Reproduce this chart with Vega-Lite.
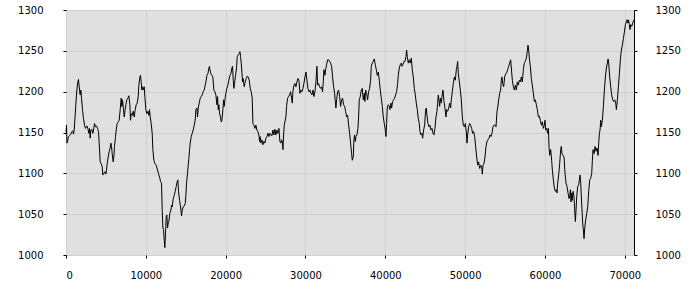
{
  "$schema": "https://vega.github.io/schema/vega-lite/v6.json",
  "width": 568,
  "height": 245,
  "autosize": {"type": "none"},
  "padding": {"left": 66, "top": 10, "right": 66, "bottom": 45},
  "background": "white",
  "config": {
    "view": {"fill": "#e0e0e0", "stroke": "black", "strokeWidth": 1},
    "axis": {"labelFont": "DejaVu Sans", "labelFontSize": 10, "labelColor": "black", "gridColor": "#d0d0d0", "gridWidth": 1, "tickColor": "black", "tickSize": 3, "domain": false, "title": null}
  },
  "data": {"values": [
{"x":0,"y":1150},{"x":60,"y":1159},{"x":120,"y":1137},{"x":188,"y":1139},{"x":313,"y":1145},{"x":439,"y":1146},{"x":606,"y":1148},{"x":731,"y":1151},{"x":857,"y":1152},{"x":940,"y":1148},{"x":1024,"y":1153},{"x":1149,"y":1171},{"x":1232,"y":1184},{"x":1358,"y":1202},{"x":1483,"y":1212},{"x":1567,"y":1215},{"x":1692,"y":1202},{"x":1776,"y":1196},{"x":1859,"y":1202},{"x":1943,"y":1192},{"x":2068,"y":1178},{"x":2193,"y":1167},{"x":2319,"y":1159},{"x":2444,"y":1155},{"x":2611,"y":1158},{"x":2736,"y":1155},{"x":2862,"y":1149},{"x":2945,"y":1155},{"x":3029,"y":1143},{"x":3112,"y":1153},{"x":3237,"y":1154},{"x":3363,"y":1149},{"x":3446,"y":1153},{"x":3572,"y":1161},{"x":3697,"y":1157},{"x":3822,"y":1158},{"x":3948,"y":1155},{"x":4073,"y":1151},{"x":4157,"y":1137},{"x":4282,"y":1114},{"x":4407,"y":1112},{"x":4532,"y":1108},{"x":4616,"y":1098},{"x":4741,"y":1100},{"x":4867,"y":1102},{"x":4992,"y":1099},{"x":5075,"y":1104},{"x":5159,"y":1112},{"x":5284,"y":1120},{"x":5410,"y":1127},{"x":5535,"y":1131},{"x":5618,"y":1137},{"x":5702,"y":1133},{"x":5785,"y":1124},{"x":5911,"y":1114},{"x":5994,"y":1120},{"x":6078,"y":1133},{"x":6203,"y":1145},{"x":6287,"y":1153},{"x":6412,"y":1161},{"x":6537,"y":1163},{"x":6663,"y":1165},{"x":6788,"y":1178},{"x":6913,"y":1192},{"x":6997,"y":1182},{"x":7080,"y":1190},{"x":7206,"y":1178},{"x":7289,"y":1169},{"x":7414,"y":1178},{"x":7498,"y":1184},{"x":7623,"y":1190},{"x":7749,"y":1192},{"x":7874,"y":1195},{"x":8000,"y":1184},{"x":8083,"y":1165},{"x":8166,"y":1173},{"x":8292,"y":1171},{"x":8417,"y":1176},{"x":8542,"y":1169},{"x":8668,"y":1178},{"x":8793,"y":1184},{"x":8918,"y":1186},
{"x":9043,"y":1194},{"x":9127,"y":1208},{"x":9252,"y":1218},{"x":9336,"y":1220},{"x":9419,"y":1212},{"x":9503,"y":1202},{"x":9586,"y":1206},{"x":9711,"y":1202},{"x":9795,"y":1206},{"x":9879,"y":1194},{"x":10004,"y":1178},{"x":10129,"y":1173},{"x":10255,"y":1176},{"x":10380,"y":1171},{"x":10463,"y":1178},{"x":10547,"y":1169},{"x":10672,"y":1161},{"x":10798,"y":1149},{"x":10881,"y":1129},{"x":11006,"y":1116},{"x":11132,"y":1112},{"x":11299,"y":1110},{"x":11466,"y":1104},{"x":11633,"y":1098},{"x":11758,"y":1094},{"x":11842,"y":1090},{"x":11967,"y":1088},{"x":12051,"y":1055},{"x":12134,"y":1033},{"x":12218,"y":1031},{"x":12301,"y":1018},{"x":12385,"y":1009},{"x":12468,"y":1027},{"x":12552,"y":1047},{"x":12635,"y":1049},{"x":12719,"y":1033},{"x":12802,"y":1039},{"x":12886,"y":1041},{"x":13011,"y":1051},{"x":13137,"y":1055},{"x":13220,"y":1061},{"x":13304,"y":1059},{"x":13429,"y":1069},{"x":13554,"y":1073},{"x":13680,"y":1078},{"x":13805,"y":1084},{"x":13930,"y":1090},{"x":14014,"y":1092},{"x":14097,"y":1078},{"x":14223,"y":1067},{"x":14348,"y":1059},{"x":14473,"y":1048},{"x":14557,"y":1055},{"x":14682,"y":1059},{"x":14808,"y":1060},{"x":14933,"y":1063},{"x":15016,"y":1073},{"x":15100,"y":1088},{"x":15225,"y":1100},{"x":15309,"y":1110},{"x":15392,"y":1118},{"x":15476,"y":1129},{"x":15559,"y":1137},{"x":15685,"y":1145},{"x":15810,"y":1149},{"x":15935,"y":1153},{"x":16061,"y":1159},{"x":16186,"y":1165},{"x":16270,"y":1178},{"x":16395,"y":1180},{"x":16478,"y":1169},{"x":16562,"y":1180},{"x":16687,"y":1186},{"x":16813,"y":1192},{"x":16938,"y":1194},{"x":17063,"y":1196},{"x":17189,"y":1200},{"x":17314,"y":1202},{"x":17439,"y":1208},{"x":17565,"y":1214},{"x":17648,"y":1220},{"x":17774,"y":1222},{"x":17899,"y":1229},{"x":17982,"y":1231},
{"x":18023,"y":1227},{"x":18148,"y":1222},{"x":18274,"y":1220},{"x":18399,"y":1218},{"x":18525,"y":1202},{"x":18650,"y":1200},{"x":18775,"y":1196},{"x":18901,"y":1184},{"x":18984,"y":1194},{"x":19068,"y":1178},{"x":19151,"y":1184},{"x":19235,"y":1173},{"x":19360,"y":1169},{"x":19444,"y":1163},{"x":19527,"y":1165},{"x":19652,"y":1178},{"x":19736,"y":1190},{"x":19820,"y":1182},{"x":19903,"y":1190},{"x":20028,"y":1198},{"x":20154,"y":1204},{"x":20279,"y":1208},{"x":20404,"y":1214},{"x":20530,"y":1220},{"x":20655,"y":1222},{"x":20780,"y":1229},{"x":20864,"y":1231},{"x":20947,"y":1214},{"x":21031,"y":1204},{"x":21114,"y":1210},{"x":21240,"y":1220},{"x":21365,"y":1229},{"x":21449,"y":1243},{"x":21574,"y":1245},{"x":21699,"y":1247},{"x":21783,"y":1249},{"x":21866,"y":1243},{"x":21950,"y":1235},{"x":22033,"y":1224},{"x":22117,"y":1212},{"x":22200,"y":1216},{"x":22326,"y":1206},{"x":22451,"y":1212},{"x":22576,"y":1216},{"x":22702,"y":1219},{"x":22827,"y":1218},{"x":22952,"y":1214},{"x":23078,"y":1204},{"x":23203,"y":1200},{"x":23328,"y":1192},{"x":23412,"y":1161},{"x":23537,"y":1159},{"x":23662,"y":1155},{"x":23788,"y":1159},{"x":23913,"y":1153},{"x":24038,"y":1151},{"x":24164,"y":1147},{"x":24247,"y":1139},{"x":24331,"y":1145},{"x":24414,"y":1137},{"x":24540,"y":1141},{"x":24665,"y":1135},{"x":24790,"y":1139},{"x":24916,"y":1137},{"x":25041,"y":1143},{"x":25166,"y":1145},{"x":25292,"y":1149},{"x":25417,"y":1145},{"x":25542,"y":1149},{"x":25668,"y":1147},{"x":25793,"y":1146},{"x":25918,"y":1153},{"x":26043,"y":1147},{"x":26169,"y":1154},{"x":26294,"y":1147},{"x":26419,"y":1153},{"x":26545,"y":1149},{"x":26670,"y":1155},{"x":26795,"y":1139},{"x":26921,"y":1137},
{"x":27005,"y":1141},{"x":27130,"y":1137},{"x":27172,"y":1129},{"x":27255,"y":1147},{"x":27339,"y":1159},{"x":27464,"y":1165},{"x":27548,"y":1169},{"x":27631,"y":1182},{"x":27756,"y":1192},{"x":27882,"y":1194},{"x":28007,"y":1196},{"x":28132,"y":1200},{"x":28258,"y":1192},{"x":28341,"y":1186},{"x":28425,"y":1200},{"x":28550,"y":1208},{"x":28675,"y":1210},{"x":28801,"y":1206},{"x":28926,"y":1212},{"x":29051,"y":1216},{"x":29177,"y":1214},{"x":29302,"y":1198},{"x":29427,"y":1202},{"x":29553,"y":1200},{"x":29678,"y":1204},{"x":29803,"y":1210},{"x":29929,"y":1218},{"x":30054,"y":1224},{"x":30179,"y":1214},{"x":30305,"y":1204},{"x":30430,"y":1200},{"x":30555,"y":1202},{"x":30680,"y":1198},{"x":30806,"y":1196},{"x":30931,"y":1202},{"x":31056,"y":1194},{"x":31182,"y":1200},{"x":31307,"y":1212},{"x":31432,"y":1231},{"x":31516,"y":1208},{"x":31641,"y":1210},{"x":31766,"y":1206},{"x":31892,"y":1204},{"x":32017,"y":1206},{"x":32142,"y":1200},{"x":32226,"y":1212},{"x":32309,"y":1227},{"x":32435,"y":1220},{"x":32518,"y":1227},{"x":32644,"y":1233},{"x":32769,"y":1239},{"x":32894,"y":1239},{"x":33020,"y":1237},{"x":33145,"y":1235},{"x":33270,"y":1231},{"x":33396,"y":1218},{"x":33521,"y":1206},{"x":33646,"y":1198},{"x":33730,"y":1188},{"x":33813,"y":1180},{"x":33897,"y":1190},{"x":34022,"y":1200},{"x":34147,"y":1202},{"x":34273,"y":1194},{"x":34398,"y":1182},{"x":34523,"y":1190},{"x":34649,"y":1192},{"x":34774,"y":1184},{"x":34899,"y":1182},{"x":35025,"y":1176},{"x":35150,"y":1169},{"x":35275,"y":1171},{"x":35401,"y":1159},{"x":35526,"y":1149},{"x":35651,"y":1137},{"x":35777,"y":1124},{"x":35860,"y":1116},{"x":35985,"y":1120},
{"x":36068,"y":1141},{"x":36152,"y":1147},{"x":36235,"y":1139},{"x":36319,"y":1145},{"x":36444,"y":1147},{"x":36570,"y":1155},{"x":36653,"y":1169},{"x":36737,"y":1190},{"x":36862,"y":1194},{"x":36987,"y":1202},{"x":37113,"y":1204},{"x":37238,"y":1190},{"x":37363,"y":1198},{"x":37447,"y":1188},{"x":37530,"y":1202},{"x":37656,"y":1198},{"x":37781,"y":1190},{"x":37906,"y":1200},{"x":38032,"y":1204},{"x":38157,"y":1214},{"x":38240,"y":1231},{"x":38366,"y":1235},{"x":38491,"y":1237},{"x":38616,"y":1240},{"x":38742,"y":1233},{"x":38867,"y":1227},{"x":38992,"y":1220},{"x":39118,"y":1224},{"x":39243,"y":1214},{"x":39368,"y":1202},{"x":39494,"y":1192},{"x":39619,"y":1182},{"x":39744,"y":1169},{"x":39870,"y":1161},{"x":39995,"y":1153},{"x":40078,"y":1145},{"x":40162,"y":1161},{"x":40245,"y":1180},{"x":40371,"y":1184},{"x":40496,"y":1182},{"x":40580,"y":1178},{"x":40705,"y":1186},{"x":40788,"y":1180},{"x":40914,"y":1188},{"x":41039,"y":1190},{"x":41164,"y":1192},{"x":41290,"y":1196},{"x":41415,"y":1200},{"x":41540,"y":1210},{"x":41624,"y":1220},{"x":41749,"y":1229},{"x":41874,"y":1233},{"x":42000,"y":1235},{"x":42083,"y":1231},{"x":42209,"y":1233},{"x":42334,"y":1237},{"x":42459,"y":1237},{"x":42585,"y":1243},{"x":42668,"y":1251},{"x":42752,"y":1243},{"x":42877,"y":1235},{"x":43002,"y":1239},{"x":43128,"y":1235},{"x":43253,"y":1241},{"x":43378,"y":1227},{"x":43504,"y":1218},{"x":43629,"y":1204},{"x":43754,"y":1196},{"x":43879,"y":1186},{"x":44005,"y":1178},{"x":44130,"y":1167},{"x":44255,"y":1161},{"x":44339,"y":1151},{"x":44464,"y":1147},{"x":44590,"y":1149},{"x":44673,"y":1143},{"x":44799,"y":1153},{"x":44924,"y":1159},
{"x":45050,"y":1178},{"x":45133,"y":1180},{"x":45217,"y":1171},{"x":45342,"y":1161},{"x":45467,"y":1157},{"x":45593,"y":1159},{"x":45718,"y":1153},{"x":45843,"y":1155},{"x":45969,"y":1149},{"x":46094,"y":1147},{"x":46219,"y":1155},{"x":46344,"y":1169},{"x":46470,"y":1176},{"x":46553,"y":1186},{"x":46637,"y":1196},{"x":46720,"y":1190},{"x":46804,"y":1182},{"x":46888,"y":1192},{"x":47013,"y":1186},{"x":47096,"y":1194},{"x":47222,"y":1202},{"x":47347,"y":1188},{"x":47472,"y":1180},{"x":47598,"y":1169},{"x":47681,"y":1178},{"x":47806,"y":1176},{"x":47932,"y":1180},{"x":48057,"y":1186},{"x":48182,"y":1180},{"x":48266,"y":1190},{"x":48391,"y":1200},{"x":48517,"y":1210},{"x":48642,"y":1218},{"x":48767,"y":1214},{"x":48893,"y":1227},{"x":48976,"y":1231},{"x":49060,"y":1237},{"x":49143,"y":1222},{"x":49268,"y":1212},{"x":49394,"y":1202},{"x":49519,"y":1190},{"x":49644,"y":1169},{"x":49770,"y":1159},{"x":49895,"y":1157},{"x":50020,"y":1161},{"x":50146,"y":1151},{"x":50229,"y":1137},{"x":50313,"y":1147},{"x":50438,"y":1157},{"x":50563,"y":1161},{"x":50689,"y":1159},{"x":50814,"y":1155},{"x":50939,"y":1149},{"x":51065,"y":1151},{"x":51190,"y":1145},{"x":51315,"y":1133},{"x":51441,"y":1120},{"x":51566,"y":1110},{"x":51691,"y":1114},{"x":51817,"y":1106},{"x":51942,"y":1110},{"x":52067,"y":1108},{"x":52151,"y":1099},{"x":52234,"y":1110},{"x":52360,"y":1112},{"x":52485,"y":1120},{"x":52610,"y":1133},{"x":52736,"y":1139},{"x":52861,"y":1141},{"x":52986,"y":1143},{"x":53112,"y":1147},{"x":53237,"y":1145},{"x":53362,"y":1149},{"x":53488,"y":1157},{"x":53613,"y":1159},{"x":53738,"y":1159},{"x":53864,"y":1157},{"x":53989,"y":1176},
{"x":54072,"y":1180},{"x":54197,"y":1190},{"x":54322,"y":1198},{"x":54448,"y":1202},{"x":54531,"y":1214},{"x":54615,"y":1218},{"x":54698,"y":1210},{"x":54823,"y":1206},{"x":54949,"y":1218},{"x":55074,"y":1222},{"x":55199,"y":1223},{"x":55325,"y":1227},{"x":55450,"y":1231},{"x":55575,"y":1235},{"x":55701,"y":1239},{"x":55784,"y":1229},{"x":55910,"y":1214},{"x":56035,"y":1206},{"x":56160,"y":1202},{"x":56286,"y":1208},{"x":56411,"y":1202},{"x":56536,"y":1212},{"x":56661,"y":1208},{"x":56787,"y":1214},{"x":56912,"y":1212},{"x":57037,"y":1218},{"x":57163,"y":1212},{"x":57288,"y":1227},{"x":57413,"y":1235},{"x":57539,"y":1237},{"x":57664,"y":1241},{"x":57789,"y":1249},{"x":57873,"y":1257},{"x":57956,"y":1251},{"x":58040,"y":1241},{"x":58165,"y":1231},{"x":58291,"y":1216},{"x":58416,"y":1208},{"x":58541,"y":1198},{"x":58667,"y":1188},{"x":58792,"y":1190},{"x":58917,"y":1184},{"x":59043,"y":1178},{"x":59168,"y":1169},{"x":59293,"y":1170},{"x":59419,"y":1165},{"x":59544,"y":1159},{"x":59669,"y":1163},{"x":59794,"y":1155},{"x":59920,"y":1159},{"x":60003,"y":1165},{"x":60087,"y":1153},{"x":60212,"y":1155},{"x":60337,"y":1149},{"x":60421,"y":1155},{"x":60504,"y":1133},{"x":60588,"y":1122},{"x":60713,"y":1129},{"x":60839,"y":1116},{"x":60922,"y":1104},{"x":61047,"y":1092},{"x":61173,"y":1082},{"x":61298,"y":1078},{"x":61423,"y":1080},{"x":61507,"y":1076},{"x":61590,"y":1088},{"x":61716,"y":1098},{"x":61841,"y":1112},{"x":61966,"y":1129},{"x":62050,"y":1133},{"x":62133,"y":1124},{"x":62259,"y":1122},{"x":62384,"y":1120},{"x":62509,"y":1100},{"x":62635,"y":1088},{"x":62760,"y":1084},{"x":62885,"y":1076},{"x":63011,"y":1069},
{"x":63095,"y":1071},{"x":63179,"y":1080},{"x":63262,"y":1065},{"x":63346,"y":1076},{"x":63429,"y":1067},{"x":63513,"y":1078},{"x":63638,"y":1071},{"x":63722,"y":1055},{"x":63805,"y":1041},{"x":63889,"y":1055},{"x":63972,"y":1071},{"x":64098,"y":1084},{"x":64223,"y":1086},{"x":64307,"y":1092},{"x":64390,"y":1098},{"x":64474,"y":1088},{"x":64557,"y":1071},{"x":64641,"y":1055},{"x":64724,"y":1039},{"x":64808,"y":1031},{"x":64891,"y":1020},{"x":64975,"y":1033},{"x":65100,"y":1043},{"x":65225,"y":1051},{"x":65351,"y":1059},{"x":65476,"y":1078},{"x":65601,"y":1092},{"x":65727,"y":1094},{"x":65852,"y":1100},{"x":65936,"y":1116},{"x":66019,"y":1129},{"x":66144,"y":1124},{"x":66270,"y":1133},{"x":66395,"y":1127},{"x":66520,"y":1131},{"x":66646,"y":1122},{"x":66729,"y":1137},{"x":66813,"y":1149},{"x":66896,"y":1153},{"x":66980,"y":1165},{"x":67063,"y":1157},{"x":67189,"y":1165},{"x":67314,"y":1182},{"x":67439,"y":1202},{"x":67565,"y":1218},{"x":67690,"y":1229},{"x":67815,"y":1235},{"x":67899,"y":1240},{"x":67982,"y":1235},{"x":68108,"y":1218},{"x":68233,"y":1206},{"x":68358,"y":1196},{"x":68484,"y":1190},{"x":68609,"y":1188},{"x":68734,"y":1190},{"x":68860,"y":1186},{"x":68943,"y":1178},{"x":69068,"y":1190},{"x":69194,"y":1206},{"x":69319,"y":1222},{"x":69444,"y":1239},{"x":69570,"y":1251},{"x":69695,"y":1257},{"x":69820,"y":1265},{"x":69946,"y":1273},{"x":70071,"y":1282},{"x":70196,"y":1286},{"x":70280,"y":1288},{"x":70363,"y":1284},{"x":70447,"y":1288},{"x":70572,"y":1282},{"x":70656,"y":1276},{"x":70739,"y":1282},{"x":70865,"y":1280},{"x":70990,"y":1284},{"x":71073,"y":1286},{"x":71150,"y":1288}
  ]},
  "layer": [
    {
      "mark": {"type": "line", "color": "black", "strokeWidth": 1},
      "encoding": {
        "x": {"field": "x", "type": "quantitative", "scale": {"domain": [0, 71150], "nice": false, "zero": false},
              "axis": {"values": [0, 10000, 20000, 30000, 40000, 50000, 60000, 70000], "format": "d", "labelPadding": 12, "grid": true, "title": null}},
        "y": {"field": "y", "type": "quantitative", "scale": {"domain": [1000, 1300], "nice": false, "zero": false},
              "axis": {"orient": "left", "values": [1000, 1050, 1100, 1150, 1200, 1250, 1300], "format": "d", "labelPadding": 20, "grid": true, "title": null}}
      }
    },
    {
      "mark": {"type": "line", "opacity": 0},
      "encoding": {
        "x": {"field": "x", "type": "quantitative"},
        "y": {"field": "y", "type": "quantitative",
              "axis": {"orient": "right", "values": [1000, 1050, 1100, 1150, 1200, 1250, 1300], "format": "d", "labelPadding": 18, "grid": false, "title": null}}
      }
    }
  ],
  "resolve": {"axis": {"y": "independent"}}
}
